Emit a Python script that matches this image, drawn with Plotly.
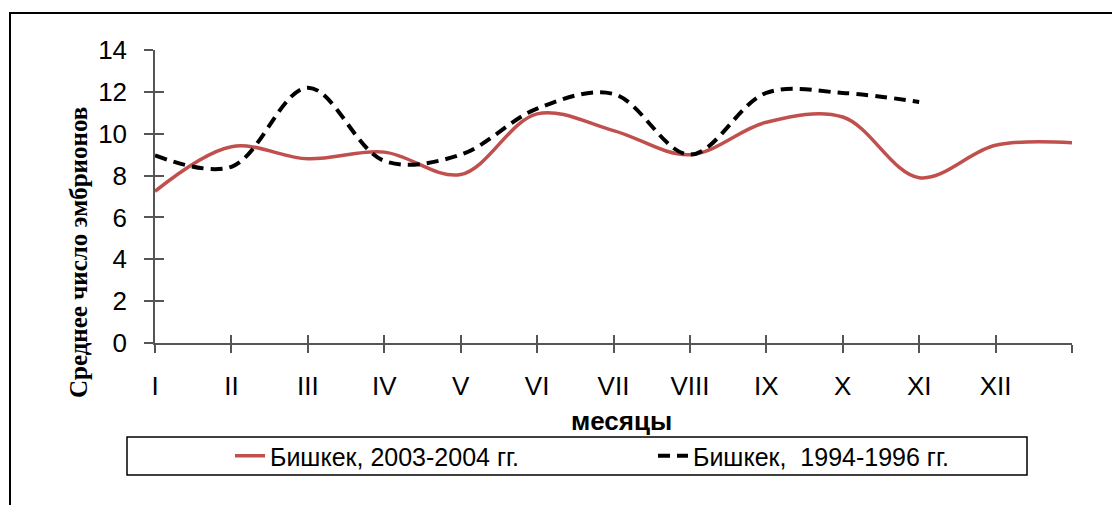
import plotly.graph_objects as go

months = ["I", "II", "III", "IV", "V", "VI", "VII", "VIII", "IX", "X", "XI", "XII", ""]
x_pos = list(range(13))

bishkek_2003_2004 = [7.25, 9.38, 8.8, 9.12, 8.05, 10.95, 10.15, 9.0, 10.55, 10.8, 7.9, 9.45, 9.57]
bishkek_1994_1996 = [8.96, 8.42, 12.2, 8.7, 9.0, 11.2, 11.9, 9.0, 11.95, 11.95, 11.52]

name_red = "Бишкек, 2003-2004 гг."
name_black = "Бишкек,  1994-1996 гг."
y_title = "Среднее число эмбрионов"
x_title = "месяцы"

# the page body adds an 8px offset; figure coordinates = page coordinates - 8
OFF = 8
W, H = 1120 - OFF, 505 - OFF
L, R, T, B = 155 - OFF, 1120 - 1072, 50 - OFF, 505 - 343
pw, ph = W - L - R, H - T - B

def px_x(p):
    return (p - OFF - L) / pw

def px_y(p):
    return (H - B - (p - OFF)) / ph

axis_col = "#555555"

fig = go.Figure()
fig.add_trace(go.Scatter(
    x=x_pos[:len(bishkek_2003_2004)], y=bishkek_2003_2004, name=name_red,
    mode="lines", line=dict(color="#C0504D", width=3.5, shape="spline", smoothing=1.0),
))
fig.add_trace(go.Scatter(
    x=x_pos[:len(bishkek_1994_1996)], y=bishkek_1994_1996, name=name_black,
    mode="lines", line=dict(color="#000000", width=4, dash="12px,7px", shape="spline", smoothing=1.0),
))
# helper trace for the inside half of the crossing tick marks
fig.add_trace(go.Scatter(x=[None], y=[None], xaxis="x2", yaxis="y2", showlegend=False, hoverinfo="skip"))

sans = "Liberation Sans, Arial, sans-serif"
tickfont = dict(family=sans, size=26, color="#000000")

fig.update_layout(
    width=W, height=H,
    margin=dict(l=L, r=R, t=T, b=B, pad=0),
    paper_bgcolor="white", plot_bgcolor="white",
    showlegend=True,
    legend=dict(
        orientation="h", x=px_x(230), xanchor="left", y=px_y(456), yanchor="middle",
        font=dict(family=sans, size=25, color="#000000"),
        bgcolor="rgba(0,0,0,0)", borderwidth=0,
        entrywidth=378, entrywidthmode="pixels", itemwidth=30,
    ),
    xaxis=dict(
        range=[0, 12], tickmode="array", tickvals=x_pos, ticktext=months,
        showgrid=False, zeroline=False, showline=True, linecolor=axis_col, linewidth=1.5,
        ticks="outside", ticklen=8, tickwidth=1.5, tickcolor=axis_col,
        tickfont=tickfont, ticklabelstandoff=11,
    ),
    yaxis=dict(
        range=[0, 14], tickmode="array", tickvals=[0, 2, 4, 6, 8, 10, 12, 14],
        showgrid=False, zeroline=False, showline=True, linecolor=axis_col, linewidth=1.5,
        ticks="outside", ticklen=9, tickwidth=1.5, tickcolor=axis_col,
        tickfont=tickfont, ticklabelstandoff=12,
    ),
    xaxis2=dict(
        overlaying="x", matches="x", range=[0, 12], tickmode="array", tickvals=x_pos,
        showticklabels=False, showgrid=False, zeroline=False, showline=False,
        ticks="inside", ticklen=8, tickwidth=1.5, tickcolor=axis_col, side="bottom",
    ),
    yaxis2=dict(
        overlaying="y", range=[0, 14], tickmode="array", tickvals=[0, 2, 4, 6, 8, 10, 12, 14],
        showticklabels=False, showgrid=False, zeroline=False, showline=False,
        ticks="inside", ticklen=9, tickwidth=1.5, tickcolor=axis_col, side="left",
    ),
    annotations=[
        dict(text="<b>" + y_title + "</b>", xref="paper", yref="paper",
             x=px_x(78), y=px_y(253), xanchor="center", yanchor="middle",
             textangle=-90, showarrow=False,
             font=dict(family="Liberation Serif, Times New Roman, serif", size=25, color="#000000")),
        dict(text="<b>" + x_title + "</b>", xref="paper", yref="paper",
             x=px_x(621), y=px_y(421), xanchor="center", yanchor="middle",
             showarrow=False,
             font=dict(family=sans, size=26, color="#000000")),
    ],
    shapes=[
        # legend frame
        dict(type="rect", xref="paper", yref="paper",
             x0=px_x(127), x1=px_x(1027), y0=px_y(475), y1=px_y(437),
             line=dict(color="#000000", width=1.5), fillcolor="rgba(0,0,0,0)", layer="below"),
        # outer chart frame (cut by the picture edge)
        dict(type="rect", xref="paper", yref="paper",
             x0=px_x(10), x1=px_x(1200), y0=px_y(600), y1=px_y(13),
             line=dict(color="#000000", width=2), fillcolor="rgba(0,0,0,0)", layer="below"),
    ],
)

fig.write_html("out.html")
